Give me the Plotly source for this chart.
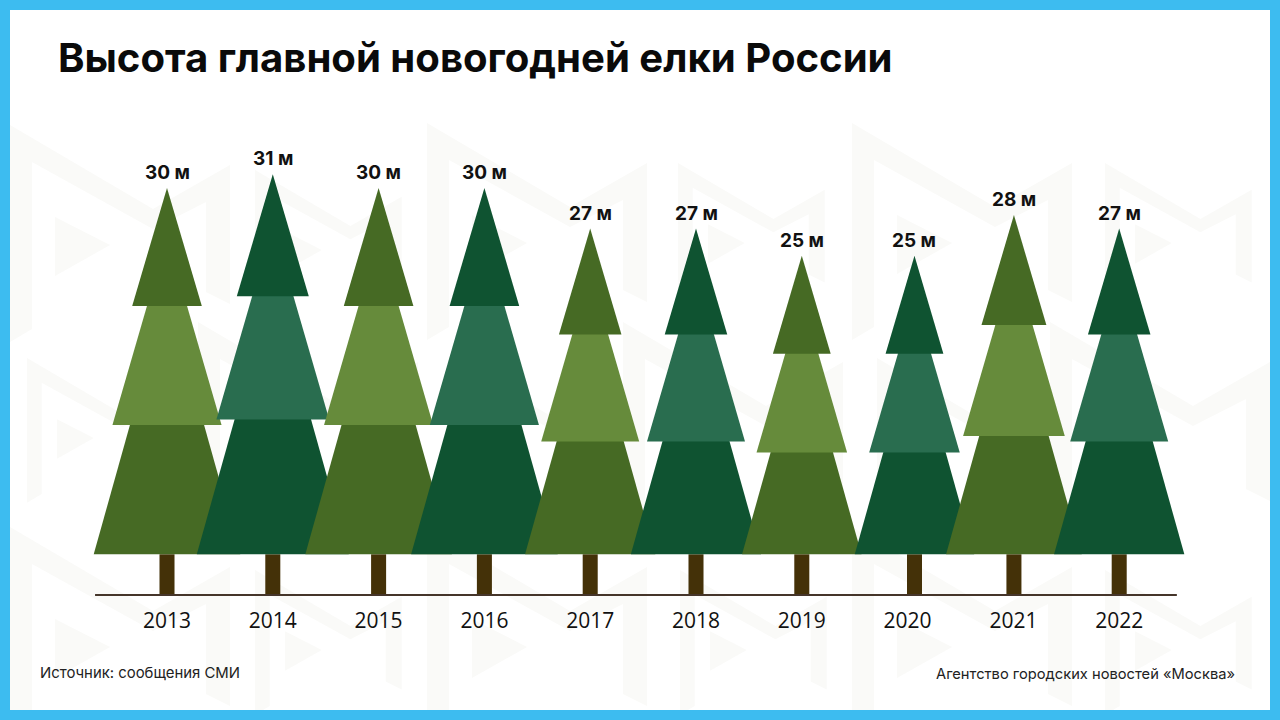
import plotly.graph_objects as go

years = [2013, 2014, 2015, 2016, 2017, 2018, 2019, 2020, 2021, 2022]
heights = [30, 31, 30, 30, 27, 27, 25, 25, 28, 27]
labels = ['30 м', '31 м', '30 м', '30 м', '27 м', '27 м', '25 м', '25 м', '28 м', '27 м']
trunk_m = [3, 3, 3, 3, 3, 3, 3, 3, 3, 3]
# the 2020 tree stands a little right of its year label
tree_x = [2013, 2014, 2015, 2016, 2017, 2018, 2019, 2020.065, 2021.005, 2022]

W, H = 1280, 720
PX_PER_M = 13.57
PX_PER_YEAR = 105.8
X0, BASE = 167, 595
X_SCALE = PX_PER_M / PX_PER_YEAR

OLIVE = ['#466a24', '#668b3b']
GREEN = ['#0f5331', '#296d4f']
TRUNK = '#443108'
GROUND = '#45352a'
TEXT = '#111111'
MARK = '#fafaf8'
BLUE = '#3dbcf0'

# watermark logo outline, px from its top left corner
LOGO = [(0, 0), (143, 84), (220, 40), (220, 179), (196, 167), (196, 77), (143, 104),
        (22, 37), (22, 204), (0, 217)]
PLAY = [(45, 92), (100, 120), (45, 151)]
LOGO_PLACES = [
    (10, 125, 1), (427, 123, 1), (852, 123, 1),
    (255, 170, 0.667), (678, 163, 0.667), (1105, 163, 0.667),
    (198, 322, 1), (623, 322, 1), (1050, 322, 1),
    (27, 358, 0.667), (452, 358, 0.667), (877, 358, 0.667),
    (10, 527, 1), (427, 527, 1), (852, 527, 1),
    (255, 570, 0.667), (680, 570, 0.667), (1105, 570, 0.667),
]


def px(x, y):
    return f'{x / W:.5f},{1 - y / H:.5f}'


def logo_path(pts, ox, oy, k):
    return 'M' + 'L'.join(px(ox + a * k, oy + b * k) for a, b in pts) + 'Z'


def trapezoid(x, top_y, top_w, base_y, base_w):
    # widths come in metres of drawing height, so turn them into years
    top_w *= X_SCALE
    base_w *= X_SCALE
    return ([x - top_w, x + top_w, x + base_w, x - base_w, x - top_w],
            [top_y, top_y, base_y, base_y, top_y])


def tree_tiers(x, height, trunk):
    crown = height - trunk
    bottom = 0.406 * crown - 1.44
    top = (crown - bottom) * 0.4975
    mid = crown - bottom - top
    seam = 0.06

    top_base = 0.295 * top
    mid_base = 0.23 * (top + mid)
    low_base = 0.2 * crown

    low_y = trunk + bottom
    mid_y = low_y + mid
    return [
        trapezoid(x, low_y + seam, low_base - 0.28 * (bottom + seam), trunk, low_base),
        trapezoid(x, mid_y + seam, mid_base - 0.29 * (mid + seam), low_y, mid_base),
        trapezoid(x, height, 0, mid_y, top_base),
    ]


fig = go.Figure()

fig.add_trace(go.Bar(x=tree_x, y=trunk_m, width=0.142, marker=dict(color=TRUNK, line=dict(width=0)),
                     showlegend=False, hoverinfo='skip'))

for i, (x, height) in enumerate(zip(tree_x, heights)):
    dark, light = (OLIVE if i % 2 == 0 else GREEN)
    for (xs, ys), color in zip(tree_tiers(x, height, trunk_m[i]), [dark, light, dark]):
        fig.add_trace(go.Scatter(x=xs, y=ys, mode='lines', fill='toself', fillcolor=color,
                                 line=dict(width=0), showlegend=False, hoverinfo='skip'))

shapes = []
for ox, oy, k in LOGO_PLACES:
    for pts in (LOGO, PLAY):
        shapes.append(dict(type='path', path=logo_path(pts, ox, oy, k), xref='paper', yref='paper',
                           fillcolor=MARK, line=dict(width=0), layer='below'))

shapes.append(dict(type='line', xref='x', yref='y', x0=years[0] - 0.68, x1=years[-1] + 0.545,
                   y0=0, y1=0, line=dict(color=GROUND, width=2), layer='above'))

# blue frame round the card
for x0, y0, x1, y1 in [(0, 0, 1, 10 / H), (0, 1 - 10 / H, 1, 1), (0, 0, 10 / W, 1), (1 - 10 / W, 0, 1, 1)]:
    shapes.append(dict(type='rect', xref='paper', yref='paper', x0=x0, y0=y0, x1=x1, y1=y1,
                       fillcolor=BLUE, line=dict(width=0), layer='above'))

annotations = [
    dict(text='Источник: сообщения СМИ', xref='paper', yref='paper', x=38 / W, y=1 - 673 / H,
         xanchor='left', yanchor='middle', showarrow=False,
         font=dict(family='Inter', size=14.9, color='#222222')),
    dict(text='Агентство городских новостей «Москва»', xref='paper', yref='paper', x=1237 / W,
         y=1 - 674 / H, xanchor='right', yanchor='middle', showarrow=False,
         font=dict(family='Inter', size=14.7, color='#222222')),
]
for x, height, label in zip(tree_x, heights, labels):
    annotations.append(dict(x=x, y=height, text=f'<b>{label}</b>', showarrow=False,
                            xanchor='center', yanchor='bottom', yshift=2,
                            font=dict(family='Inter', size=19, color=TEXT)))

fig.update_layout(
    width=W,
    height=H,
    margin=dict(l=0, r=0, t=0, b=0),
    paper_bgcolor='white',
    plot_bgcolor='rgba(0,0,0,0)',
    showlegend=False,
    shapes=shapes,
    annotations=annotations,
    title=dict(text='<b>Высота главной новогодней елки России</b>', x=58 / W, xanchor='left',
               y=1 - 58 / H, yanchor='middle',
               font=dict(family='Inter', size=40.1, color='#0a0a0a')),
)

fig.update_xaxes(
    range=[years[0] - X0 / PX_PER_YEAR, years[0] + (W - X0) / PX_PER_YEAR],
    anchor='free', position=(H - BASE) / H,
    tickmode='array', tickvals=years, ticktext=[str(y) for y in years],
    ticks='', ticklabelstandoff=11,
    tickfont=dict(family='Open Sans', size=21, color=TEXT),
    showgrid=False, zeroline=False, showline=False,
)
fig.update_yaxes(
    range=[-(H - BASE) / PX_PER_M, BASE / PX_PER_M],
    visible=False, showgrid=False, zeroline=False,
)

fig.write_html('out.html', config={'displayModeBar': False},
               post_script="document.body.style.margin='0';")
